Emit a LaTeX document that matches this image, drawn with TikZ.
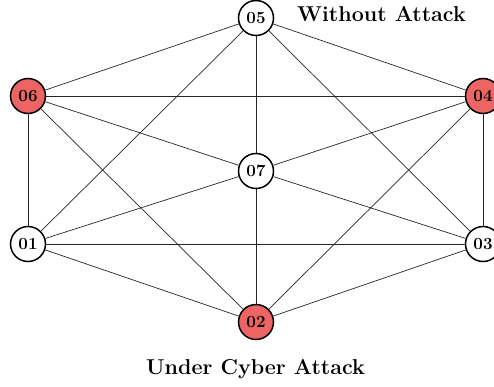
\documentclass[tikz,border=0pt]{standalone}
\usepackage{fontspec}
\definecolor{attack}{RGB}{236,100,100}
\begin{document}
\begin{tikzpicture}[x=1pt,y=-1pt,
  vtx/.style={circle,draw=black,line width=1.5pt,fill=white,minimum size=35pt,inner sep=0pt,
    font=\fontsize{17}{17}\selectfont\bfseries\addfontfeatures{LetterSpace=4}},
  hit/.style={vtx,fill=attack},
  edge/.style={line width=0.7pt,draw=black!85},
  lbl/.style={font=\fontsize{21.5}{21.5}\selectfont\bfseries\addfontfeatures{LetterSpace=11},anchor=base,inner sep=0pt}]
\useasboundingbox (0,0) rectangle (494,386);
\node[vtx] (n05) at (256,18) {05};
\node[hit] (n06) at (28,96) {06};
\node[hit] (n04) at (483,96) {04};
\node[vtx] (n07) at (256,171) {07};
\node[vtx] (n01) at (28,244) {01};
\node[vtx] (n03) at (483,244) {03};
\node[hit] (n02) at (256,322) {02};
\foreach \a/\b in {n05/n06,n05/n04,n05/n07,n05/n01,n05/n03,n06/n04,n06/n07,n06/n01,n06/n02,
  n04/n07,n04/n03,n04/n02,n07/n01,n07/n03,n07/n02,n01/n03,n01/n02,n03/n02}
  \draw[edge] (\a) -- (\b);
\node[lbl] (t1) at (381.5,21) {Without Attack};
\node[lbl] (t2) at (255.5,374) {Under Cyber Attack};
\end{tikzpicture}
\end{document}
